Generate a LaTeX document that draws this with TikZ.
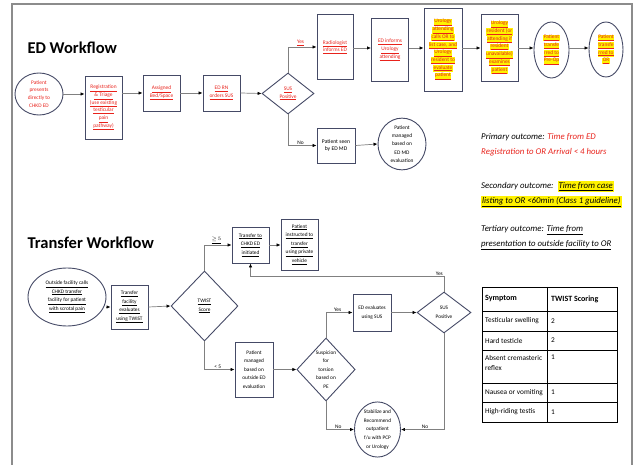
\documentclass[tikz,border=0pt]{standalone}
\usepackage{fontspec}
\setmainfont{Carlito}
\usetikzlibrary{shapes.geometric,arrows.meta,positioning}
\definecolor{edred}{HTML}{E8221B}
\definecolor{hly}{HTML}{FFF200}
\definecolor{boxc}{HTML}{454A66}
\definecolor{linec}{HTML}{808080}
\definecolor{frm}{HTML}{8C8C8C}
\newcommand{\boxf}{\fontsize{5.4}{7.7}\selectfont\lineskiplimit=-4pt}
\newcommand{\trf}{\fontsize{5.3}{8.6}\selectfont\lineskiplimit=-4pt}
\newcommand{\titlef}{\fontsize{16.5}{18}\selectfont\bfseries}
\newcommand{\outf}{\fontsize{8.8}{15.5}\selectfont\itshape\lineskiplimit=-4pt}
\newcommand{\uln}[1]{\underline{#1}}
\newcommand{\hlu}[1]{{\fboxsep=0.3pt\colorbox{hly}{\underline{#1}}}}
\newcommand{\hlbig}[1]{{\fboxsep=1pt\colorbox{hly}{\underline{#1}}}}

\begin{document}
\begin{tikzpicture}[x=1pt,y=-1pt,
  box/.style={draw=boxc,line width=0.9pt,inner sep=1pt,align=center,font=\boxf},
  oval/.style={ellipse,draw=boxc,line width=0.9pt,inner sep=0pt,align=center,font=\boxf},
  dia/.style={diamond,draw=boxc,line width=0.9pt,inner sep=0pt,align=center,font=\boxf},
  redtxt/.style={text=edred},
  arr/.style={draw=linec,line width=0.7pt,-{Latex[length=4pt,width=3.4pt,color=black]}},
  lbl/.style={font=\boxf,inner sep=1pt},
  tcell/.style={font=\fontsize{7.3}{10}\selectfont,inner sep=0pt,anchor=west,align=left}]
\useasboundingbox (0,0) rectangle (635,465);
\draw[frm,line width=1.6pt] (12,467) -- (12,4) -- (632,4) -- (632,467);

% ED workflow
\node[font=\titlef,anchor=west] (edt) at (24,48) {ED Workflow};
\node[oval,redtxt,minimum width=48pt,minimum height=42pt] (pat) at (39,94) {Patient\\presents\\directly to\\CHKD ED};
\node[box,redtxt,minimum width=37pt,minimum height=63pt] (reg) at (103.5,107.5)
  {\uln{Registration}\\\uln{\& Triage}\\\uln{(use existing}\\\uln{testicular}\\\uln{pain}\\\uln{pathway)}};
\node[box,redtxt,minimum width=37pt,minimum height=36pt] (bed) at (161.5,93) {\uln{Assigned}\\\uln{Bed/Space}};
\node[box,redtxt,minimum width=37pt,minimum height=36pt] (rn) at (221.5,93) {\uln{ED RN}\\\uln{orders SUS}};
\node[dia,redtxt,minimum width=52pt,minimum height=41pt] (sus1) at (288,93.5) {\uln{SUS}\\\uln{Positive}};
\node[box,redtxt,minimum width=36pt,minimum height=65pt] (rad) at (335,47) {\uln{Radiologist}\\\uln{informs ED}};
\node[box,redtxt,minimum width=37pt,minimum height=63pt] (edi) at (390,50) {\uln{ED informs}\\\uln{Urology}\\\uln{attending}};
\node[box,redtxt,minimum width=38pt,minimum height=83pt] (call) at (443,49.5)
  {\hlu{Urology}\\\hlu{attending}\\\hlu{calls OR to}\\\hlu{list case, and}\\\hlu{Urology}\\\hlu{resident to}\\\hlu{evaluate}\\\hlu{patient}};
\node[box,redtxt,minimum width=37pt,minimum height=67pt] (res) at (499.5,47.5)
  {\hlu{Urology}\\\hlu{resident (or}\\\hlu{attending if}\\\hlu{resident}\\\hlu{unavailable)}\\\hlu{examines}\\\hlu{patient}};
\node[oval,redtxt,minimum width=35pt,minimum height=56pt] (pre) at (551.5,50) {\hlu{Patient}\\\hlu{transfe}\\\hlu{rred to}\\\hlu{Pre-Op}};
\node[oval,redtxt,minimum width=34pt,minimum height=55pt] (orr) at (606,49.5) {\hlu{Patient}\\\hlu{transfe}\\\hlu{rred to}\\\hlu{OR}};
\node[box,minimum width=38pt,minimum height=35pt,font=\fontsize{5.6}{7}\selectfont] (seen) at (336,145.5) {Patient seen\\by ED MD};
\node[oval,minimum width=48pt,minimum height=48pt,font=\fontsize{5.4}{8.2}\selectfont] (mgd) at (402,144) {Patient\\managed\\based on\\ED MD\\evaluation};

\draw[arr] (pat.east) -- (reg.west |- pat.east);
\draw[arr] (reg.east |- bed.west) -- (bed.west);
\draw[arr] (bed.east) -- (rn.west);
\draw[arr] (rn.east) -- (sus1.west);
\draw[arr] (sus1.north) |- (rad.west) node[lbl,redtxt,above,pos=0.72] {\uln{Yes}};
\draw[arr] (sus1.south) |- (seen.west) node[lbl,above,pos=0.72] {No};
\draw[arr] (rad.east |- 0,48) -- (edi.west |- 0,48);
\draw[arr] (edi.east |- 0,48) -- (call.west |- 0,48);
\draw[arr] (call.east |- 0,48) -- (res.west |- 0,48);
\draw[arr] (res.east |- 0,48) -- (pre.west |- 0,48);
\draw[arr] (pre.east |- 0,48) -- (orr.west |- 0,48);
\draw[arr] (seen.east) -- (mgd.west);

% outcomes
\node[font=\outf,anchor=north west,align=left,inner sep=0pt] (prim) at (481,133)
  {Primary outcome: \textcolor{edred}{Time from ED}\\\textcolor{edred}{Registration to OR Arrival < 4 hours}};
\node[font=\outf,anchor=north west,align=left,inner sep=0pt] (sec) at (481,181)
  {Secondary outcome:\ \ \hlbig{Time from case}\\\hlbig{listing to OR <60min (Class 1 guideline)}};
\node[font=\outf,anchor=north west,align=left,inner sep=0pt] (ter) at (481,225)
  {Tertiary outcome: \uln{Time from}\\\uln{presentation to outside facility to OR}};

% Transfer workflow
\node[font=\titlef,anchor=west] (trt) at (24,243) {Transfer Workflow};
\node[oval,font=\trf,minimum width=78pt,minimum height=58pt] (out) at (67,297)
  {\uln{Outside facility calls}\\\uln{CHKD transfer}\\\uln{facility for patient}\\\uln{with scrotal pain}};
\node[box,font=\trf,minimum width=37pt,minimum height=44pt] (tf) at (129.5,307) {\uln{Transfer}\\\uln{facility}\\\uln{evaluates}\\\uln{using TWIST}};
\node[dia,font=\trf,minimum width=67pt,minimum height=70pt] (twist) at (204.5,306) {\uln{TWIST}\\\uln{Score}};
\node[box,font=\trf,minimum width=37pt,minimum height=36pt] (tci) at (250.5,245) {\uln{Transfer to}\\\uln{CHKD ED}\\\uln{initiated}};
\node[box,font=\trf,minimum width=37pt,minimum height=51pt] (piv) at (299.5,244.5)
  {\uln{Patient}\\\uln{instructed to}\\\uln{transfer}\\\uln{using private}\\\uln{vehicle}};
\node[box,font=\trf,minimum width=38pt,minimum height=37pt] (edsus) at (372,312.5) {ED evaluates\\using SUS};
\node[dia,font=\trf,minimum width=54pt,minimum height=41pt] (sus2) at (444,312.5) {SUS\\Positive};
\node[box,font=\trf,minimum width=38pt,minimum height=55pt] (pmo) at (254,369.5) {Patient\\managed\\based on\\outside ED\\evaluation};
\node[dia,font=\trf,minimum width=58pt,minimum height=63pt] (sto) at (326,369.5) {Suspicion\\for\\torsion\\based on\\PE};
\node[oval,font=\trf,minimum width=46pt,minimum height=49pt] (stab) at (377.5,429.5)
  {Stabilize and\\Recommend\\outpatient\\f/u with PCP\\or Urology};

\draw[arr] (out.east |- tf.west) -- (tf.west);
\draw[arr] (tf.east) -- (twist.west);
\draw[arr] (twist.north) |- (tci.west) node[lbl,above,pos=0.72] {$\underline{\geq\!5}$};
\draw[arr] (tci.east) -- (piv.west |- tci.east);
\draw[arr] (twist.south) |- (pmo.west) node[lbl,above,pos=0.72] {< 5};
\draw[arr] (pmo.east) -- (sto.west);
\draw[arr] (sto.north) |- (edsus.west) node[lbl,above,pos=0.72] {Yes};
\draw[arr] (edsus.east) -- (sus2.west);
\draw[arr] (sus2.north) -- ++(0,-15) coordinate (yc) -| (tci.south);
\node[lbl,above left] at (yc) {Yes};
\draw[arr] (sto.south) |- (stab.west) node[lbl,above,pos=0.72] {No};
\draw[arr] (sus2.south) |- (stab.east) node[lbl,above,pos=0.72] {No};

% TWIST table
\draw[line width=0.8pt] (482,287) rectangle (617,422);
\foreach \y in {311,331,350,383,402} \draw[line width=0.8pt] (482,\y) -- (617,\y);
\draw[line width=0.8pt] (547,287) -- (547,422);
\node[tcell,font=\fontsize{8}{10}\selectfont\bfseries] (hsym) at (485,299) {Symptom};
\node[tcell,font=\fontsize{8}{10}\selectfont\bfseries] (hsco) at (551,299) {TWIST Scoring};
\foreach \s/\v/\y in {Testicular swelling/2/321, Hard testicle/2/340.5, Nausea or vomiting/1/392.5, High-riding testis/1/412} {
  \node[tcell] at (485,\y) {\s};
  \node[tcell] at (551,\y) {\v};
}
\node[tcell,anchor=north west] (abs) at (485,355) {Absent cremasteric\\reflex};
\node[tcell,anchor=north west] (absv) at (551,355) {1};
\end{tikzpicture}
\end{document}
